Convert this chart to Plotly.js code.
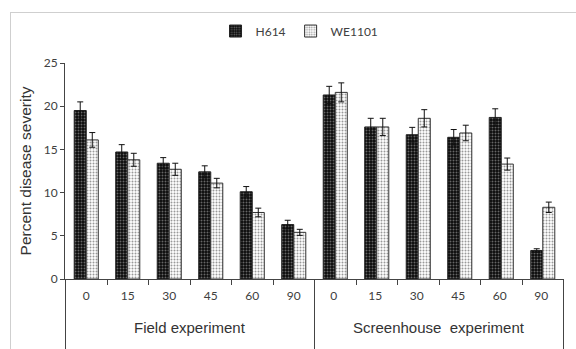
<!DOCTYPE html>
<html>
<head>
<meta charset="utf-8">
<script src="https://cdn.plot.ly/plotly-3.0.1.min.js"></script>
<style>
html,body{margin:0;padding:0;background:#fff;}
#wrap{position:relative;width:576px;height:349px;overflow:hidden;}
#frame{position:absolute;left:10px;top:12px;width:600px;height:400px;border-left:1px solid #cfcfcf;border-top:1px solid #cfcfcf;pointer-events:none;}
#chart{position:absolute;left:0;top:0;width:576px;height:349px;}
</style>
</head>
<body>
<div id="wrap"><div id="chart"></div><div id="frame"></div></div>
<script>
const groupNames = ["Field experiment", "Screenhouse  experiment"];
// second group's labels carry a trailing space so the categories stay distinct
const times = ["0","15","30","45","60","90","0 ","15 ","30 ","45 ","60 ","90 "];
const h614 = [19.5, 14.7, 13.4, 12.4, 10.1, 6.3, 21.3, 17.6, 16.7, 16.4, 18.7, 3.3];
const h614Err = [1.0, 0.85, 0.65, 0.7, 0.6, 0.5, 1.0, 1.0, 0.85, 0.9, 1.0, 0.2];
const we1101 = [16.1, 13.8, 12.7, 11.1, 7.7, 5.4, 21.6, 17.6, 18.6, 16.9, 13.3, 8.3];
const weErr = [0.85, 0.75, 0.7, 0.55, 0.5, 0.35, 1.1, 1.0, 1.0, 0.9, 0.7, 0.6];

const perGroup = times.length / groupNames.length;
const tickFont = {family: "Lato, 'Open Sans', sans-serif", size: 12, color: "#404040"};
const lineCol = "#444";

const traces = [
  {type: "bar", name: "H614", x: times, y: h614,
   marker: {color: "#111", line: {color: "#222", width: 1},
            pattern: {shape: ".", bgcolor: "#0a0a0a", fgcolor: "#666", size: 3, solidity: 0.35}},
   error_y: {type: "data", array: h614Err, visible: true, color: "#111", thickness: 1, width: 3}},
  {type: "bar", name: "WE1101", x: times, y: we1101,
   marker: {color: "#fff", line: {color: "#333", width: 1},
            pattern: {shape: ".", bgcolor: "#fff", fgcolor: "#999", size: 3, solidity: 0.35}},
   error_y: {type: "data", array: weErr, visible: true, color: "#111", thickness: 1, width: 3}}
];

// group dividers and group labels, placed from the category indices
const shapes = [];
for (let g = 0; g <= groupNames.length; g++) {
  shapes.push({type: "line", xref: "x", yref: "paper",
               x0: g * perGroup - 0.5, x1: g * perGroup - 0.5, y0: 0, y1: -0.4,
               line: {color: lineCol, width: 1}});
}
const annotations = groupNames.map((name, g) => ({
  xref: "x", yref: "paper", x: g * perGroup + (perGroup - 1) / 2, y: -0.225,
  yanchor: "middle", xanchor: "center", showarrow: false, text: name,
  font: {family: "'Liberation Sans', Arial, sans-serif", size: 15, color: "#333"}
}));

const layout = {
  width: 576, height: 349,
  margin: {l: 65, r: 12, t: 63, b: 70},
  paper_bgcolor: "rgba(0,0,0,0)", plot_bgcolor: "rgba(0,0,0,0)",
  barmode: "group", bargap: 0.42, bargroupgap: 0,
  showlegend: true,
  legend: {orientation: "h", x: 0.47, xanchor: "center", y: 1.148, yanchor: "middle",
           font: {family: "Lato, 'Open Sans', sans-serif", size: 12, color: "#404040"},
           itemwidth: 30, tracegroupgap: 0},
  xaxis: {type: "category", showline: true, linecolor: lineCol, linewidth: 1,
          ticks: "outside", tickson: "boundaries", ticklen: 5, tickcolor: lineCol,
          ticklabelstandoff: 6,
          tickfont: tickFont, showgrid: false, zeroline: false},
  yaxis: {range: [0, 25], dtick: 5, showline: true, linecolor: lineCol, linewidth: 1,
          ticks: "outside", ticklen: 4, tickcolor: lineCol, showgrid: false, zeroline: false,
          tickfont: tickFont,
          title: {text: "Percent disease severity", standoff: 8,
                  font: {family: "'Liberation Sans', Arial, sans-serif", size: 15.5, color: "#333"}}},
  shapes: shapes,
  annotations: annotations,
  font: {family: "'Liberation Sans', Arial, sans-serif", color: "#333"}
};

Plotly.newPlot("chart", traces, layout, {displayModeBar: false, staticPlot: true});
</script>
</body>
</html>
